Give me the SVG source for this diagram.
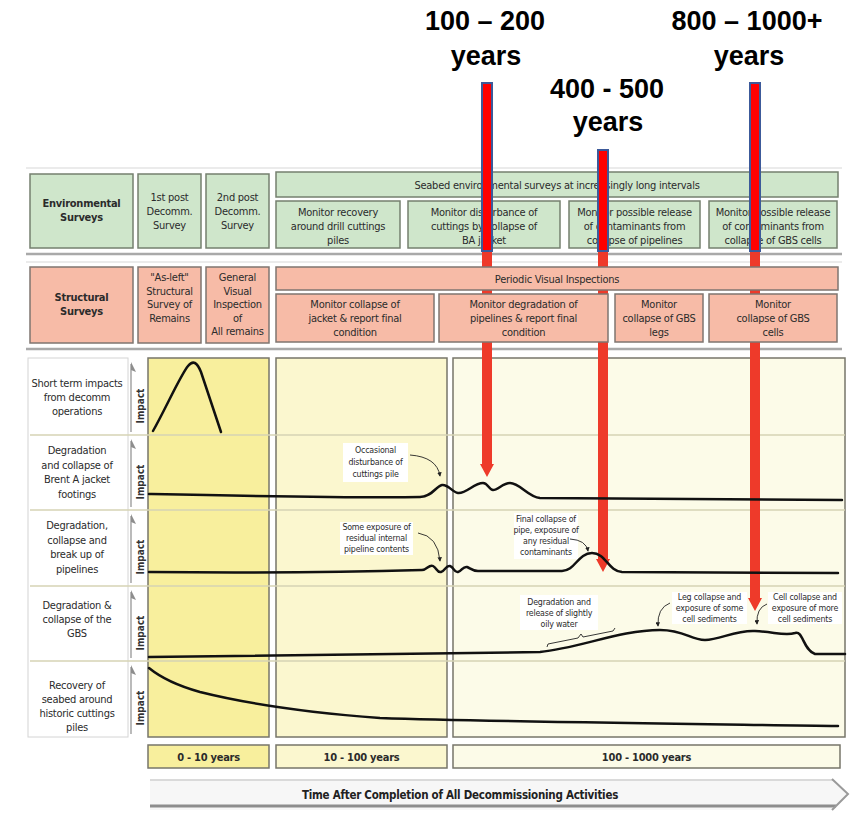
<svg xmlns="http://www.w3.org/2000/svg" width="858" height="813" viewBox="0 0 858 813">
<style>
.t{font-family:"Liberation Sans Narrow","DejaVu Sans Condensed","Liberation Sans",sans-serif;font-size:11px;letter-spacing:-0.25px;fill:#2b2b2b;text-anchor:middle}
.b{font-weight:bold}
.s{font-size:8.8px;letter-spacing:-0.2px}
.big{font-family:"Liberation Sans",Arial,sans-serif;font-size:27px;font-weight:bold;fill:#000;text-anchor:middle}
.g{fill:#cfe6cb;stroke:#75806f;stroke-width:1.5}
.r{fill:#f7bba7;stroke:#7f7570;stroke-width:1.5}
.p1{fill:#f8ef9d;stroke:#77766a;stroke-width:1.5}
.p2{fill:#fbf7cf;stroke:#77766a;stroke-width:1.5}
.p3{fill:#fcfbe8;stroke:#77766a;stroke-width:1.5}
.div{stroke:#d6d3b4;stroke-width:1.5}
.curve{fill:none;stroke:#111;stroke-width:2.5;stroke-linecap:round}
.call{fill:none;stroke:#222;stroke-width:0.9}
.note{fill:#fff}
.bar{fill:#ff0000;stroke:#3c5a9a;stroke-width:2}
.ra{fill:#ee3a2a}
.ax{stroke:#8d8d8d;stroke-width:1.2}
.imp{font-family:"Liberation Sans Narrow","DejaVu Sans Condensed","Liberation Sans",sans-serif;font-size:10px;font-weight:bold;fill:#333;text-anchor:middle}
</style>
<defs>
<marker id="ah" viewBox="0 0 6 6" refX="5" refY="3" markerWidth="5" markerHeight="5" orient="auto"><path d="M0,0 L6,3 L0,6 z" fill="#222"/></marker>
</defs>

<!-- top labels -->
<g id="label-100-200">
<text class="big" x="485" y="30">100 – 200</text>
<text class="big" x="486" y="65">years</text>
</g>
<g id="label-400-500">
<text class="big" x="607" y="98">400 - 500</text>
<text class="big" x="608" y="131">years</text>
</g>
<g id="label-800-1000">
<text class="big" x="747" y="30">800 – 1000+</text>
<text class="big" x="749" y="65">years</text>
</g>

<!-- backdrop lines -->
<line x1="26" y1="168" x2="842" y2="168" stroke="#e4e4e4" stroke-width="1.5"/>
<line x1="26" y1="254" x2="842" y2="254" stroke="#a9a9a9" stroke-width="2.5"/>
<line x1="26" y1="262" x2="842" y2="262" stroke="#e4e4e4" stroke-width="1.5"/>
<line x1="26" y1="349" x2="842" y2="349" stroke="#a9a9a9" stroke-width="2.5"/>

<!-- Chart panels -->
<g id="chart-panels">
<rect x="28" y="358" width="100" height="379" fill="#fff" stroke="#d4d4d4" stroke-width="1"/>
<rect class="p1" x="148" y="358" width="121" height="379"/>
<rect class="p2" x="276" y="358" width="171" height="379"/>
<rect class="p3" x="453" y="358" width="392" height="379"/>
<g class="div">
<line x1="30" y1="435" x2="845" y2="435"/>
<line x1="30" y1="510" x2="845" y2="510"/>
<line x1="30" y1="586" x2="845" y2="586"/>
<line x1="30" y1="661" x2="845" y2="661"/>
</g>
</g>

<!-- lower red arrows (behind structural boxes) -->
<g id="red-arrows-lower">
<path class="ra" d="M482,252 L492,252 L492,464 L494,464 L487,477 L480,464 L482,464 Z"/>
<path class="ra" d="M598,252 L608,252 L608,559 L610,559 L603,572 L596,559 L598,559 Z"/>
<path class="ra" d="M750,252 L760,252 L760,598 L762,598 L755,611 L748,598 L750,598 Z"/>
</g>

<!-- Environmental surveys -->
<g id="env-label"><rect class="g" x="30" y="174" width="103" height="74"/>
<text class="t b" x="81.5" y="207">Environmental</text><text class="t b" x="81.5" y="221">Surveys</text></g>
<g id="env-1st"><rect class="g" x="138" y="174" width="63" height="74"/>
<text class="t" x="169.5" y="201">1st post</text><text class="t" x="169.5" y="215">Decomm.</text><text class="t" x="169.5" y="229">Survey</text></g>
<g id="env-2nd"><rect class="g" x="206" y="174" width="63" height="74"/>
<text class="t" x="237.5" y="201">2nd post</text><text class="t" x="237.5" y="215">Decomm.</text><text class="t" x="237.5" y="229">Survey</text></g>
<g id="env-seabed"><rect class="g" x="276" y="172" width="562" height="25"/>
<text class="t" x="557" y="189">Seabed environmental surveys at increasingly long intervals</text></g>
<g id="env-recovery"><rect class="g" x="276" y="201" width="124" height="47"/>
<text class="t" x="338" y="216">Monitor recovery</text><text class="t" x="338" y="230">around drill cuttings</text><text class="t" x="338" y="244">piles</text></g>
<g id="env-disturbance"><rect class="g" x="408" y="201" width="152" height="47"/>
<text class="t" x="484" y="216">Monitor disturbance of</text><text class="t" x="484" y="230">cuttings by collapse of</text><text class="t" x="484" y="244">BA jacket</text></g>
<g id="env-pipelines"><rect class="g" x="569" y="201" width="131" height="47"/>
<text class="t" x="634.5" y="216">Monitor possible release</text><text class="t" x="634.5" y="230">of contaminants from</text><text class="t" x="634.5" y="244">collapse of pipelines</text></g>
<g id="env-gbs"><rect class="g" x="709" y="201" width="128" height="47"/>
<text class="t" x="773" y="216">Monitor possible release</text><text class="t" x="773" y="230">of contaminants from</text><text class="t" x="773" y="244">collapse of GBS cells</text></g>

<!-- upper red bars (over env row) -->
<g id="red-bars-upper">
<rect class="bar" x="482" y="83" width="10" height="168"/>
<rect class="bar" x="598" y="150" width="10" height="101"/>
<rect class="bar" x="750" y="83" width="10" height="168"/>
</g>

<!-- Structural surveys -->
<g id="str-label"><rect class="r" x="30" y="267" width="103" height="76"/>
<text class="t b" x="81.5" y="301">Structural</text><text class="t b" x="81.5" y="315">Surveys</text></g>
<g id="str-asleft"><rect class="r" x="138" y="267" width="63" height="76"/>
<text class="t" x="169.5" y="281">"As-left"</text><text class="t" x="169.5" y="294.5">Structural</text><text class="t" x="169.5" y="308">Survey of</text><text class="t" x="169.5" y="321.5">Remains</text></g>
<g id="str-general"><rect class="r" x="206" y="267" width="63" height="76"/>
<text class="t" x="237.5" y="281">General</text><text class="t" x="237.5" y="294.5">Visual</text><text class="t" x="237.5" y="308">Inspection</text><text class="t" x="237.5" y="321.5">of</text><text class="t" x="237.5" y="335">All remains</text></g>
<g id="str-periodic"><rect class="r" x="276" y="267" width="562" height="23"/>
<text class="t" x="557" y="283">Periodic Visual Inspections</text></g>
<g id="str-jacket"><rect class="r" x="276" y="294" width="158" height="48"/>
<text class="t" x="355" y="307.5">Monitor collapse of</text><text class="t" x="355" y="321.5">jacket &amp; report final</text><text class="t" x="355" y="335.5">condition</text></g>
<g id="str-pipelines"><rect class="r" x="439" y="294" width="169" height="48"/>
<text class="t" x="523.5" y="307.5">Monitor degradation of</text><text class="t" x="523.5" y="321.5">pipelines &amp; report final</text><text class="t" x="523.5" y="335.5">condition</text></g>
<g id="str-legs"><rect class="r" x="615" y="294" width="88" height="48"/>
<text class="t" x="659" y="307.5">Monitor</text><text class="t" x="659" y="321.5">collapse of GBS</text><text class="t" x="659" y="335.5">legs</text></g>
<g id="str-cells"><rect class="r" x="709" y="294" width="128" height="48"/>
<text class="t" x="773" y="307.5">Monitor</text><text class="t" x="773" y="321.5">collapse of GBS</text><text class="t" x="773" y="335.5">cells</text></g>

<!-- Row labels -->
<g id="row-short-term">
<text class="t" x="77" y="387">Short term impacts</text><text class="t" x="77" y="401">from decomm</text><text class="t" x="77" y="415">operations</text></g>
<g id="row-jacket">
<text class="t" x="77" y="454">Degradation</text><text class="t" x="77" y="468.5">and collapse of</text><text class="t" x="77" y="483">Brent A jacket</text><text class="t" x="77" y="497.5">footings</text></g>
<g id="row-pipelines">
<text class="t" x="77" y="529">Degradation,</text><text class="t" x="77" y="543.5">collapse and</text><text class="t" x="77" y="558">break up of</text><text class="t" x="77" y="572.5">pipelines</text></g>
<g id="row-gbs">
<text class="t" x="77" y="609">Degradation &amp;</text><text class="t" x="77" y="623">collapse of the</text><text class="t" x="77" y="637">GBS</text></g>
<g id="row-recovery">
<text class="t" x="77" y="689">Recovery of</text><text class="t" x="77" y="703">seabed around</text><text class="t" x="77" y="717">historic cuttings</text><text class="t" x="77" y="731">piles</text></g>

<!-- Impact axes -->
<g id="impact-axes">
<line class="ax" x1="131" y1="432" x2="131" y2="364"/><path d="M131,362 L136,372 L131,370 Z" fill="#8d8d8d"/>
<text class="imp" transform="translate(144,406) rotate(-90)">Impact</text>
<line class="ax" x1="131" y1="507" x2="131" y2="441"/><path d="M131,439 L136,449 L131,447 Z" fill="#8d8d8d"/>
<text class="imp" transform="translate(144,482) rotate(-90)">Impact</text>
<line class="ax" x1="131" y1="583" x2="131" y2="516"/><path d="M131,514 L136,524 L131,522 Z" fill="#8d8d8d"/>
<text class="imp" transform="translate(144,557) rotate(-90)">Impact</text>
<line class="ax" x1="131" y1="658" x2="131" y2="592"/><path d="M131,590 L136,600 L131,598 Z" fill="#8d8d8d"/>
<text class="imp" transform="translate(144,633) rotate(-90)">Impact</text>
<line class="ax" x1="131" y1="734" x2="131" y2="667"/><path d="M131,665 L136,675 L131,673 Z" fill="#8d8d8d"/>
<text class="imp" transform="translate(144,708) rotate(-90)">Impact</text>
</g>

<!-- curves -->
<g id="curves">
<path class="curve" d="M153,431 C166,408 180,376 188,366 C193,360 197,362 201,372 L221,432"/>
<path class="curve" d="M149,494 C250,496 350,498 420,497 C432,497 436,486 442,485 C448,484 452,492 458,493 C466,494 474,483 483,483 C488,483 489,490 493,490 C498,490 503,483 510,483 C520,483 528,497 540,498 L842,500"/>
<path class="curve" d="M149,572 C250,573 350,572 422,570 C427,570 429,564 433,566 C437,568 437,573 441,572 C445,571 446,565 450,566 C454,567 454,573 458,572 C462,571 463,566 467,567 C470,568 472,571 478,571 L562,571 C575,571 578,553 592,553 C606,553 608,571 622,572 L838,573"/>
<path class="curve" d="M149,657 L540,652 C580,648 620,630 660,630 C685,630 690,640 705,640 C720,640 735,630 755,631 C775,632 785,636 795,633 C803,630 803,650 815,654 L845,654"/>
<path class="curve" d="M149,668 C160,677 175,685 200,692 C240,702 300,712 380,718 C500,722 700,724 838,726"/>
</g>

<!-- annotations -->
<g id="note-occasional">
<rect class="note" x="343" y="443" width="65" height="39"/>
<text class="t s" x="375.5" y="453">Occasional</text><text class="t s" x="375.5" y="465">disturbance of</text><text class="t s" x="375.5" y="477">cuttings pile</text>
<path class="call" d="M410,455 Q437,457 440,476" marker-end="url(#ah)"/></g>
<g id="note-some-exposure">
<rect class="note" x="340" y="522" width="73" height="33"/>
<text class="t s" x="376.5" y="530">Some exposure of</text><text class="t s" x="376.5" y="541">residual internal</text><text class="t s" x="376.5" y="552">pipeline contents</text>
<path class="call" d="M418,533 Q438,536 440,561" marker-end="url(#ah)"/></g>
<g id="note-final-collapse">
<rect class="note" x="514" y="513" width="64" height="46"/>
<text class="t s" x="546" y="522">Final collapse of</text><text class="t s" x="546" y="533">pipe, exposure of</text><text class="t s" x="546" y="544">any residual</text><text class="t s" x="546" y="555">contaminants</text>
<path class="call" d="M570,539 Q586,540 588,551" marker-end="url(#ah)"/></g>
<g id="note-oily-water">
<rect class="note" x="520" y="595" width="78" height="35"/>
<text class="t s" x="559" y="605">Degradation and</text><text class="t s" x="559" y="616">release of slightly</text><text class="t s" x="559" y="627">oily water</text>
<path class="call" d="M547,647 L548,644 L578,638 L581,634 L583,637 L613,631 L615,628"/></g>
<g id="note-leg-collapse">
<rect class="note" x="672" y="592" width="75" height="32"/>
<text class="t s" x="709.5" y="600">Leg collapse and</text><text class="t s" x="709.5" y="611">exposure of some</text><text class="t s" x="709.5" y="622">cell sediments</text>
<path class="call" d="M670,603 Q657,608 658,626" marker-end="url(#ah)"/></g>
<g id="note-cell-collapse">
<rect class="note" x="768" y="592" width="74" height="32"/>
<text class="t s" x="805" y="600">Cell collapse and</text><text class="t s" x="805" y="611">exposure of more</text><text class="t s" x="805" y="622">cell sediments</text>
<path class="call" d="M767,604 Q756,608 757,624" marker-end="url(#ah)"/></g>

<!-- time ranges -->
<g id="range-0-10"><rect class="p1" x="148" y="745" width="121" height="23"/><text class="t b" x="208.5" y="761">0 - 10 years</text></g>
<g id="range-10-100"><rect class="p2" x="276" y="745" width="171" height="23"/><text class="t b" x="361.5" y="761">10 - 100 years</text></g>
<g id="range-100-1000"><rect class="p3" x="453" y="745" width="387" height="23"/><text class="t b" x="646.5" y="761">100 - 1000 years</text></g>

<!-- time arrow -->
<g id="time-arrow">
<polygon points="150,779 832,779 848,794 832,810 150,810" fill="#f7f7f7"/>
<line x1="150" y1="780" x2="833" y2="780" stroke="#d0d0d0" stroke-width="1.5"/>
<line x1="150" y1="806" x2="836" y2="806" stroke="#8e8e8e" stroke-width="3"/>
<polyline points="832,779 848,794 832,810" fill="none" stroke="#9a9a9a" stroke-width="2"/>
<text class="t" x="460" y="799" style="font-size:11.5px;font-weight:600;fill:#222">Time After Completion of All Decommissioning Activities</text>
</g>
</svg>
